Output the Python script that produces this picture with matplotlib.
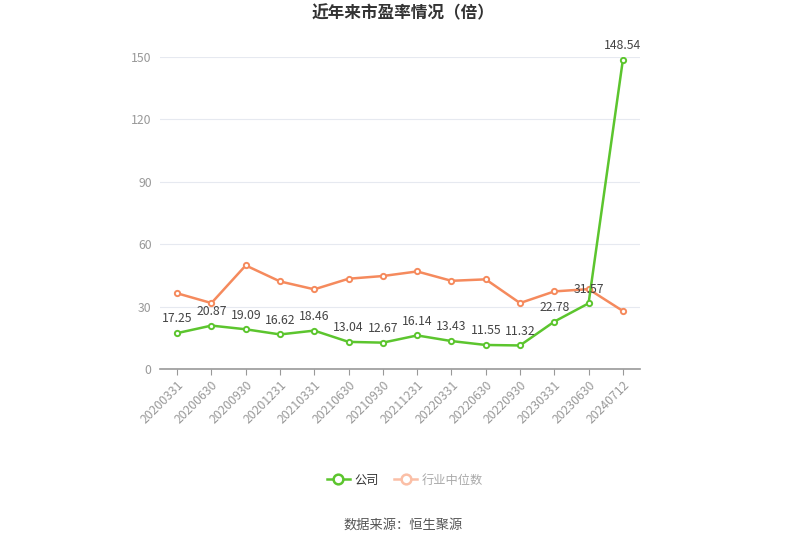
import matplotlib
matplotlib.use("Agg")
import matplotlib.pyplot as plt
from matplotlib.lines import Line2D

plt.rcParams['font.family'] = ['Noto Sans CJK SC', 'DejaVu Sans']

dates = ["20200331", "20200630", "20200930", "20201231", "20210331", "20210630",
         "20210930", "20211231", "20220331", "20220630", "20220930", "20230331",
         "20230630", "20240712"]
company = [17.25, 20.87, 19.09, 16.62, 18.46, 13.04, 12.67, 16.14, 13.43, 11.55,
           11.32, 22.78, 31.57, 148.54]
industry = [36.4, 31.7, 49.8, 42.1, 38.3, 43.4, 44.7, 46.9, 42.4, 43.1,
            31.7, 37.3, 38.4, 27.9]
yticks = [0, 30, 60, 90, 120, 150]

green = "#5cc52e"
orange = "#f58a5d"

fig = plt.figure(figsize=(8.07, 5.46), dpi=100)
ax = fig.add_axes([160/807, 1-369/546, 480/807, (369-57)/546])

x = list(range(len(dates)))
ax.plot(x, industry, color=orange, lw=1.8, marker='o', ms=3.8,
        mfc='white', mew=1.4, zorder=3)
ax.plot(x, company, color=green, lw=1.8, marker='o', ms=3.8,
        mfc='white', mew=1.4, zorder=4)
for xi, v in zip(x, company):
    ax.annotate(f"{v:.2f}", (xi, v), xytext=(0, 5.5), textcoords='offset points',
                ha='center', va='bottom', fontsize=8.8, color='#444444', zorder=5)

ax.set_xlim(-0.5, len(dates)-0.5)
ax.set_ylim(0, 150)
ax.set_yticks(yticks)
ax.set_yticklabels([str(t) for t in yticks])
ax.set_xticks(x)
ax.set_xticklabels(dates, rotation=45, ha='right', rotation_mode='anchor')
ax.grid(axis='y', color='#e6e9f0', lw=0.8)
ax.set_axisbelow(True)
for s in ['top', 'right', 'left']:
    ax.spines[s].set_visible(False)
ax.spines['bottom'].set_color('#999999')
ax.spines['bottom'].set_linewidth(1.2)
ax.tick_params(axis='y', length=0, labelsize=8.8, labelcolor='#999999', pad=6)
ax.tick_params(axis='x', length=4, color='#999999', labelsize=8.8,
               labelcolor='#999999', pad=3)

fig.text(403/807, 1-13/546, "近年来市盈率情况（倍）", ha='center', va='center',
         fontsize=12, fontweight='bold', color='#333333')

handles = [Line2D([], [], color=green, lw=1.8, marker='o', ms=7, mfc='white', mew=1.8),
           Line2D([], [], color='#fbbfa6', lw=1.8, marker='o', ms=7, mfc='white', mew=1.8)]
leg = fig.legend(handles, ["公司", "行业中位数"], loc='center',
                 bbox_to_anchor=(405/807, 1-480/546), ncol=2, frameon=False,
                 fontsize=8.8, handlelength=1.9, columnspacing=1.2, handletextpad=0.4)
leg.get_texts()[0].set_color('#333333')
leg.get_texts()[1].set_color('#aaaaaa')

fig.text(403/807, 1-525/546, "数据来源：恒生聚源", ha='center', va='center',
         fontsize=9.5, color='#555555')

fig.savefig("out.png", dpi=100)
